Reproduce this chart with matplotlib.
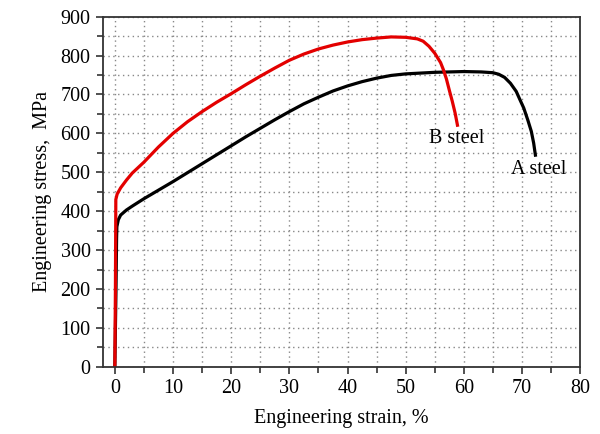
import numpy as np
import matplotlib.pyplot as plt
from matplotlib.ticker import MultipleLocator

# --- Datos (deformación %, esfuerzo MPa) ---
strain_A = [0, 0.2, 0.3, 0.35, 0.6, 1, 2, 3, 5, 7.5, 10, 12.5, 15, 17.5, 20, 22.5,
            25, 27.5, 30, 32.5, 35, 37.5, 40, 42.5, 45, 47.5, 50, 55, 60, 63,
            65, 66, 67, 68, 69, 69.6, 70.3, 71, 71.6, 72, 72.3]
stress_A = [0, 200, 330, 360, 378, 390, 403, 413, 432, 454, 476, 499, 522, 545, 568, 591,
            613, 635, 656, 676, 693, 709, 722, 733, 742, 749, 753, 757, 759, 758,
            756, 752, 744, 729, 708, 688, 665, 634, 605, 575, 544]

strain_B = [0, 0.1, 0.17, 0.4, 1, 2, 3, 5, 7.5, 10, 12.5, 15, 17.5, 20, 22.5,
            25, 27.5, 30, 32.5, 35, 37.5, 40, 42.5, 45, 47.5, 50, 52, 53, 54,
            55, 56, 56.5, 57, 57.5, 58, 58.5, 58.9]
stress_B = [0, 200, 430, 444, 460, 480, 498, 526, 565, 600, 630, 656, 680, 702, 725,
            747, 768, 788, 804, 817, 827, 835, 841, 845, 848, 847, 843, 837, 824,
            806, 782, 763, 740, 711, 683, 652, 621]

labels = ['A steel', 'B steel']
label_pos = [(72.9, 506), (58.7, 588)]

plt.rcParams['font.family'] = ['Liberation Serif', 'DejaVu Serif']
plt.rcParams['font.size'] = 14.5

fig = plt.figure(figsize=(6, 4.34), dpi=100)
ax = fig.add_axes([0.172, 0.155, 0.795, 0.8065])

ax.plot(strain_A, stress_A, color='black', lw=2.3, solid_joinstyle='round')
ax.plot(strain_B, stress_B, color='#e30000', lw=2.3, solid_joinstyle='round')

for txt, (x, y) in zip(labels, label_pos):
    ax.text(x, y, txt, ha='center', va='center', fontsize=14.5)

ax.set_xlim(-2, 80)
ax.set_ylim(0, 900)
ax.xaxis.set_major_locator(MultipleLocator(10))
ax.xaxis.set_minor_locator(MultipleLocator(5))
ax.yaxis.set_major_locator(MultipleLocator(100))
ax.yaxis.set_minor_locator(MultipleLocator(50))

# rejilla punteada en mayores y menores
ax.grid(which='both', color='#888888', linestyle=(0, (1, 2.5)), lw=1.0)
ax.set_axisbelow(True)

for s in ax.spines.values():
    s.set_color('#333333')
    s.set_linewidth(1.3)
ax.tick_params(which='major', direction='out', length=5, width=1.2, color='#333333', pad=4)
ax.tick_params(which='minor', direction='out', length=4, width=1.2, color='#333333')

ax.set_xlabel('Engineering strain, %', labelpad=8)
ax.set_ylabel('Engineering stress,  MPa', labelpad=6)

fig.savefig('out.png', dpi=100)
